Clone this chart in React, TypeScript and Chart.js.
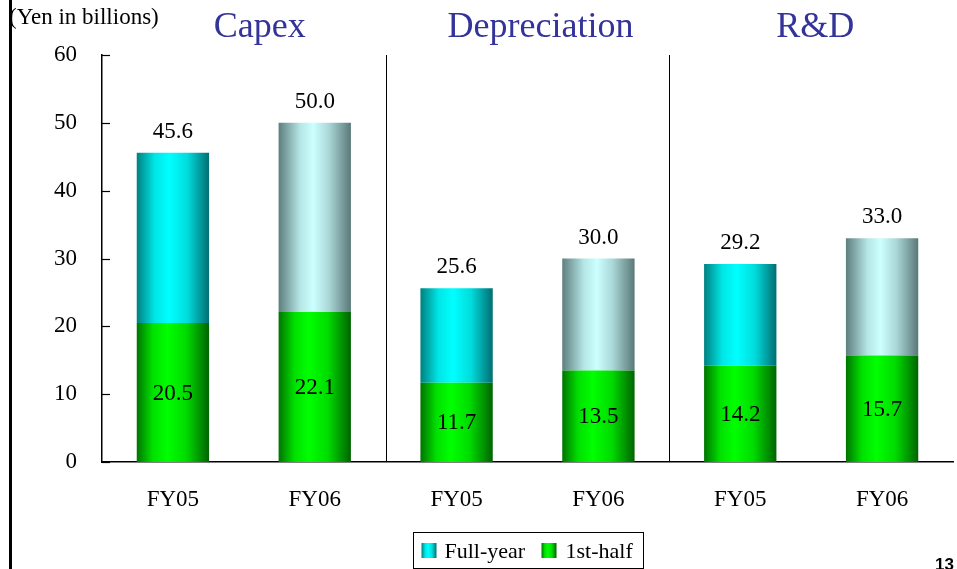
import React, { useEffect, useRef } from "react";
import { Chart, registerables } from "chart.js";

Chart.register(...registerables);

const categories = ["FY05", "FY06", "FY05", "FY06", "FY05", "FY06"];
const groupTitles = ["Capex", "Depreciation", "R&D"];
const fullYear = [45.6, 50.0, 25.6, 30.0, 29.2, 33.0];
const firstHalf = [20.5, 22.1, 11.7, 13.5, 14.2, 15.7];
const isPlan = [false, true, false, true, false, true];
const yMin = 0;
const yMax = 60;
const yStep = 10;
const unitLabel = "(Yen in billions)";
const pageNumber = "13";
const legendLabels = ["Full-year", "1st-half"];

const SERIF = '"Liberation Serif", "Times New Roman", serif';
const BAR_PCT = 0.51;

const GREEN_STOPS: [number, string][] = [
  [0, "#007400"],
  [0.22, "#00e000"],
  [0.42, "#00ff00"],
  [0.68, "#00dc00"],
  [1, "#006400"],
];
const CYAN_STOPS: [number, string][] = [
  [0, "#008080"],
  [0.25, "#00e6e6"],
  [0.45, "#00ffff"],
  [0.7, "#00dcdc"],
  [1, "#006e72"],
];
const GRAY_STOPS: [number, string][] = [
  [0, "#5e7e7e"],
  [0.3, "#b6e6e6"],
  [0.48, "#ccffff"],
  [0.7, "#aad6d6"],
  [1, "#5a7878"],
];

function makeGrad(ctx: CanvasRenderingContext2D, x0: number, x1: number, stops: [number, string][]) {
  const g = ctx.createLinearGradient(x0, 0, x1, 0);
  stops.forEach(([o, c]) => g.addColorStop(o, c));
  return g;
}

function barGradient(stopsFor: (i: number) => [number, string][], fallback: string) {
  return (c: any) => {
    const chart = c.chart;
    const xs = chart.scales?.x;
    if (!chart.chartArea || !xs || c.dataIndex === undefined) return fallback;
    const cx = xs.getPixelForValue(c.dataIndex);
    const w = (xs.width / categories.length) * BAR_PCT;
    return makeGrad(chart.ctx, cx - w / 2, cx + w / 2, stopsFor(c.dataIndex));
  };
}

const overlay = {
  id: "overlay",
  afterDraw(chart: any) {
    const ctx: CanvasRenderingContext2D = chart.ctx;
    const area = chart.chartArea;
    const xs = chart.scales.x;
    const ys = chart.scales.y;
    ctx.save();

    // group separators
    ctx.strokeStyle = "#000";
    ctx.lineWidth = 1;
    [2, 4].forEach((i) => {
      const px = Math.round((xs.getPixelForValue(i - 1) + xs.getPixelForValue(i)) / 2) + 0.5;
      ctx.beginPath();
      ctx.moveTo(px, area.top);
      ctx.lineTo(px, area.bottom);
      ctx.stroke();
    });

    // inward y tick marks
    ctx.lineWidth = 1.2;
    for (let v = yMin; v <= yMax; v += yStep) {
      const py = Math.round(ys.getPixelForValue(v)) + 0.5;
      ctx.beginPath();
      ctx.moveTo(area.left, py);
      ctx.lineTo(area.left + 8, py);
      ctx.stroke();
    }

    // value labels
    ctx.fillStyle = "#000";
    ctx.font = `23px ${SERIF}`;
    ctx.textAlign = "center";
    ctx.textBaseline = "middle";
    categories.forEach((_, i) => {
      const cx = xs.getPixelForValue(i);
      const top = ys.getPixelForValue(fullYear[i]);
      ctx.fillText(fullYear[i].toFixed(1), cx, top - 21);
      const mid = (ys.getPixelForValue(0) + ys.getPixelForValue(firstHalf[i])) / 2;
      ctx.fillText(firstHalf[i].toFixed(1), cx, mid + 1);
    });

    // group titles
    const titleOffsets = [16, 13, 4];
    ctx.fillStyle = "#333399";
    ctx.font = `36px ${SERIF}`;
    ctx.textBaseline = "alphabetic";
    groupTitles.forEach((t, g) => {
      const cx = (xs.getPixelForValue(g * 2) + xs.getPixelForValue(g * 2 + 1)) / 2;
      ctx.fillText(t, cx + titleOffsets[g], 37);
    });

    // unit label
    ctx.fillStyle = "#000";
    ctx.font = `23px ${SERIF}`;
    ctx.textAlign = "left";
    ctx.fillText(unitLabel, 9, 24);

    // left page bar
    ctx.fillRect(9, 0, 3, chart.height);

    // page number
    ctx.font = `bold 17px "Liberation Sans", Arial, sans-serif`;
    ctx.textAlign = "right";
    ctx.fillText(pageNumber, 954, 570);

    // legend
    const lcx = (area.left + area.right) / 2;
    const bw = 230;
    const bx = Math.round(lcx - bw / 2) + 0.5;
    const by = 532.5;
    ctx.lineWidth = 1;
    ctx.strokeStyle = "#000";
    ctx.strokeRect(bx, by, bw, 36);
    ctx.font = `22px ${SERIF}`;
    ctx.textAlign = "left";
    ctx.textBaseline = "alphabetic";
    const sq1 = bx + 8;
    ctx.fillStyle = makeGrad(ctx, sq1, sq1 + 15, CYAN_STOPS);
    ctx.fillRect(sq1, 543, 15, 15);
    ctx.fillStyle = "#000";
    ctx.fillText(legendLabels[0], sq1 + 23, 558);
    const sq2 = bx + 128;
    ctx.fillStyle = makeGrad(ctx, sq2, sq2 + 15, GREEN_STOPS);
    ctx.fillRect(sq2, 543, 15, 15);
    ctx.fillStyle = "#000";
    ctx.fillText(legendLabels[1], sq2 + 24, 558);

    ctx.restore();
  },
};

export default function App() {
  const ref = useRef<HTMLCanvasElement>(null);
  useEffect(() => {
    if (!ref.current) return;
    const remainder = fullYear.map((v, i) => +(v - firstHalf[i]).toFixed(1));
    const chart = new Chart(ref.current, {
      type: "bar",
      data: {
        labels: categories,
        datasets: [
          {
            label: legendLabels[1],
            data: firstHalf,
            backgroundColor: barGradient(() => GREEN_STOPS, "#00cc00"),
            borderWidth: 0,
            barPercentage: BAR_PCT,
            categoryPercentage: 1,
          },
          {
            label: legendLabels[0],
            data: remainder,
            backgroundColor: barGradient((i) => (isPlan[i] ? GRAY_STOPS : CYAN_STOPS), "#00cccc"),
            borderWidth: 0,
            barPercentage: BAR_PCT,
            categoryPercentage: 1,
          },
        ],
      },
      options: {
        responsive: false,
        maintainAspectRatio: false,
        animation: false,
        events: [],
        layout: { padding: { left: 0, top: 55, right: 4, bottom: 0 } },
        plugins: { legend: { display: false }, tooltip: { enabled: false }, title: { display: false } },
        scales: {
          x: {
            stacked: true,
            offset: true,
            grid: { display: false, drawTicks: false },
            border: { display: true, color: "#000", width: 1.5 },
            ticks: { color: "#000", font: { family: SERIF, size: 23 }, padding: 24, maxRotation: 0 },
            afterFit: (s: any) => {
              s.height = 107;
            },
          },
          y: {
            stacked: true,
            min: yMin,
            max: yMax,
            grid: { display: false, drawTicks: false },
            border: { display: true, color: "#000", width: 1.5 },
            ticks: { stepSize: yStep, color: "#000", font: { family: SERIF, size: 23 }, padding: 25 },
            afterFit: (s: any) => {
              s.width = 102;
            },
          },
        },
      },
      plugins: [overlay],
    });
    return () => chart.destroy();
  }, []);
  return (
    <div style={{ position: "fixed", left: 0, top: 0, width: 957, height: 569, background: "#fff" }}>
      <canvas ref={ref} width={957} height={569} style={{ display: "block" }} />
    </div>
  );
}
